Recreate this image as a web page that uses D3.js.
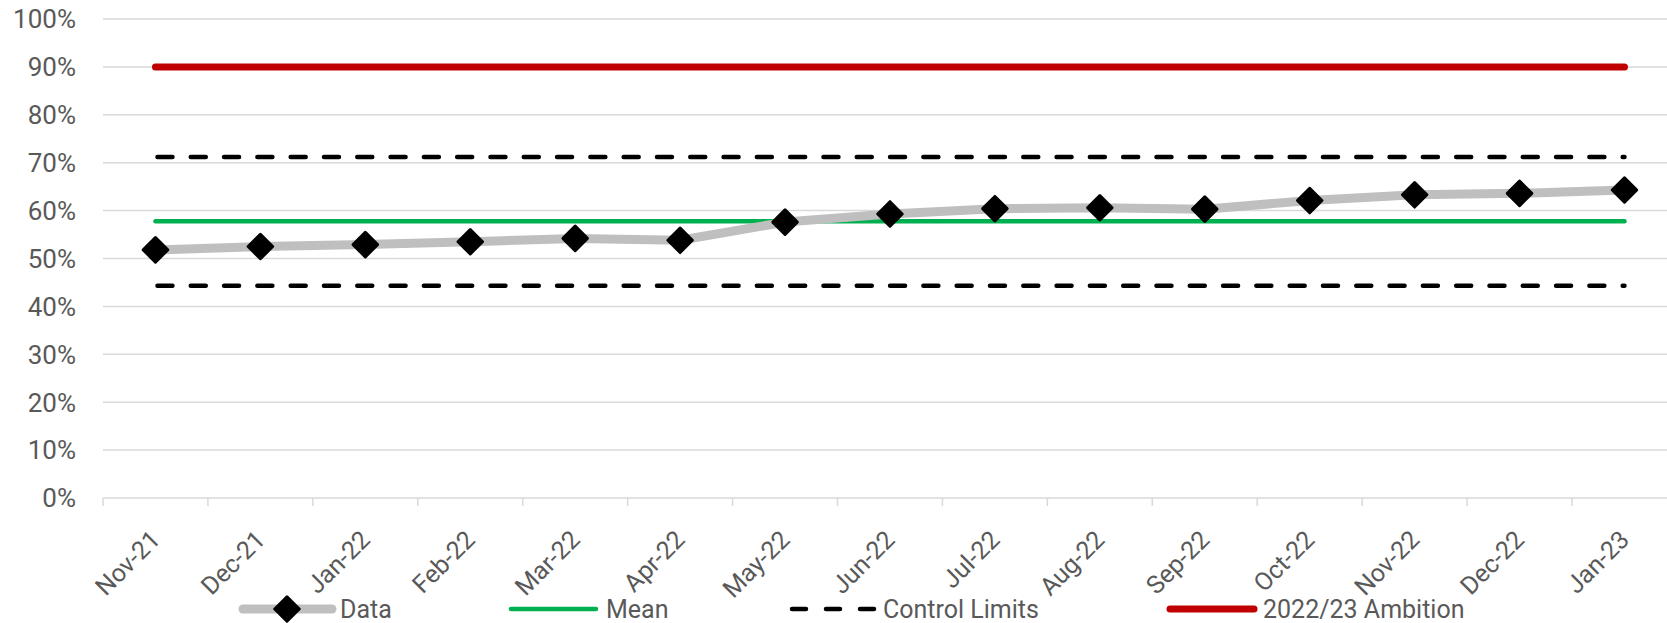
<!DOCTYPE html>
<html>
<head>
<meta charset="utf-8">
<script src="https://cdn.jsdelivr.net/npm/d3@7"></script>
<style>
    body { margin: 0; background: #fff; }
    svg text { font-family: Roboto, "Open Sans", sans-serif; fill: #595959; }
</style>
</head>
<body>
<div id="chart"></div>
<script>
// chart values
var months = ["Nov-21", "Dec-21", "Jan-22", "Feb-22", "Mar-22", "Apr-22", "May-22", "Jun-22",
    "Jul-22", "Aug-22", "Sep-22", "Oct-22", "Nov-22", "Dec-22", "Jan-23"];
var dataValues = [51.8, 52.5, 52.9, 53.5, 54.2, 53.8, 57.6, 59.3, 60.4, 60.6, 60.3, 62.1, 63.3, 63.6, 64.3];
var meanValue = 57.8;
var upperLimit = 71.2;
var lowerLimit = 44.3;
var ambition = 90;
var yTicks = [0, 10, 20, 30, 40, 50, 60, 70, 80, 90, 100];
var legendNames = ["Data", "Mean", "Control Limits", "2022/23 Ambition"];

var W = 1667, H = 623;
var margin = {top: 19, left: 103, bottom: 125};
var bandW = 104.93;

var svg = d3.select("#chart")
    .append("svg")
    .attr("width", W)
    .attr("height", H);

var x = d3.scaleBand()
    .domain(months)
    .range([margin.left, margin.left + bandW * months.length]);

var y = d3.scaleLinear()
    .domain([0, 100])
    .range([H - margin.bottom, margin.top]);

function cx(m) { return x(m) + x.bandwidth() / 2; }

// gridlines
svg.append("g")
    .selectAll("line")
    .data(yTicks)
    .enter().append("line")
    .attr("x1", margin.left)
    .attr("x2", W)
    .attr("y1", function(d) { return y(d); })
    .attr("y2", function(d) { return y(d); })
    .attr("stroke", "#d9d9d9")
    .attr("stroke-width", 1.5);

// y labels
svg.append("g")
    .selectAll("text")
    .data(yTicks)
    .enter().append("text")
    .attr("x", 76)
    .attr("y", function(d) { return y(d); })
    .attr("dy", "0.36em")
    .attr("text-anchor", "end")
    .attr("font-size", "26px")
    .text(function(d) { return d + "%"; });

// x axis tick marks at category boundaries
var xAxis = d3.axisBottom(x).tickSize(8).tickFormat("");
var gx = svg.append("g")
    .attr("transform", "translate(0," + y(0) + ")")
    .call(xAxis);
gx.select(".domain").remove();
gx.selectAll(".tick line")
    .attr("transform", "translate(" + (-x.bandwidth() / 2) + ",0)")
    .attr("stroke", "#d9d9d9")
    .attr("stroke-width", 1.5);

// x labels
svg.append("g")
    .selectAll("text")
    .data(months)
    .enter().append("text")
    .attr("text-anchor", "end")
    .attr("font-size", "25px")
    .attr("dy", "0.35em")
    .attr("transform", function(d) {
        return "translate(" + cx(d) + "," + (y(0) + 37) + ") rotate(-45)";
    })
    .text(function(d) { return d; });

var x0 = cx(months[0]), x1 = cx(months[months.length - 1]);

// ambition
svg.append("line")
    .attr("x1", x0).attr("x2", x1)
    .attr("y1", y(ambition)).attr("y2", y(ambition))
    .attr("stroke", "#c00000")
    .attr("stroke-width", 7)
    .attr("stroke-linecap", "round");

// control limits
svg.append("g")
    .selectAll("line")
    .data([upperLimit, lowerLimit])
    .enter().append("line")
    .attr("x1", x0).attr("x2", x1)
    .attr("y1", function(d) { return y(d); })
    .attr("y2", function(d) { return y(d); })
    .attr("stroke", "#000")
    .attr("stroke-width", 4.5)
    .attr("stroke-linecap", "round")
    .attr("stroke-dasharray", "15,18.3")
    .attr("stroke-dashoffset", -2);

// mean
svg.append("line")
    .attr("x1", x0).attr("x2", x1)
    .attr("y1", y(meanValue)).attr("y2", y(meanValue))
    .attr("stroke", "#00b050")
    .attr("stroke-width", 4.5)
    .attr("stroke-linecap", "round");

// data line
var line = d3.line()
    .x(function(d, i) { return cx(months[i]); })
    .y(function(d) { return y(d); });

svg.append("path")
    .datum(dataValues)
    .attr("d", line)
    .attr("fill", "none")
    .attr("stroke", "#bfbfbf")
    .attr("stroke-width", 9)
    .attr("stroke-linejoin", "round")
    .attr("stroke-linecap", "round");

var diamond = d3.symbol().type(d3.symbolSquare).size(300);

svg.append("g")
    .selectAll("path")
    .data(dataValues)
    .enter().append("path")
    .attr("d", diamond)
    .attr("transform", function(d, i) {
        return "translate(" + cx(months[i]) + "," + y(d) + ") rotate(45)";
    })
    .attr("fill", "#000")
    .attr("stroke", "#000")
    .attr("stroke-width", 3)
    .attr("stroke-linejoin", "round");

// legend
var ly = 609;
var legend = svg.append("g");

legend.append("line")
    .attr("x1", 243).attr("x2", 332).attr("y1", ly).attr("y2", ly)
    .attr("stroke", "#bfbfbf").attr("stroke-width", 9).attr("stroke-linecap", "round");
legend.append("path")
    .attr("d", diamond)
    .attr("transform", "translate(287," + ly + ") rotate(45)")
    .attr("fill", "#000").attr("stroke", "#000")
    .attr("stroke-width", 3).attr("stroke-linejoin", "round");

legend.append("line")
    .attr("x1", 511).attr("x2", 596).attr("y1", ly).attr("y2", ly)
    .attr("stroke", "#00b050").attr("stroke-width", 4.5).attr("stroke-linecap", "round");

legend.append("line")
    .attr("x1", 792).attr("x2", 874).attr("y1", ly).attr("y2", ly)
    .attr("stroke", "#000").attr("stroke-width", 4.5).attr("stroke-linecap", "round")
    .attr("stroke-dasharray", "14,20");

legend.append("line")
    .attr("x1", 1170).attr("x2", 1254).attr("y1", ly).attr("y2", ly)
    .attr("stroke", "#c00000").attr("stroke-width", 7).attr("stroke-linecap", "round");

var legendX = [340, 606, 883, 1263];
legend.selectAll("text")
    .data(legendNames)
    .enter().append("text")
    .attr("x", function(d, i) { return legendX[i]; })
    .attr("y", ly)
    .attr("dy", "0.36em")
    .attr("font-size", "25px")
    .text(function(d) { return d; });
</script>
</body>
</html>
